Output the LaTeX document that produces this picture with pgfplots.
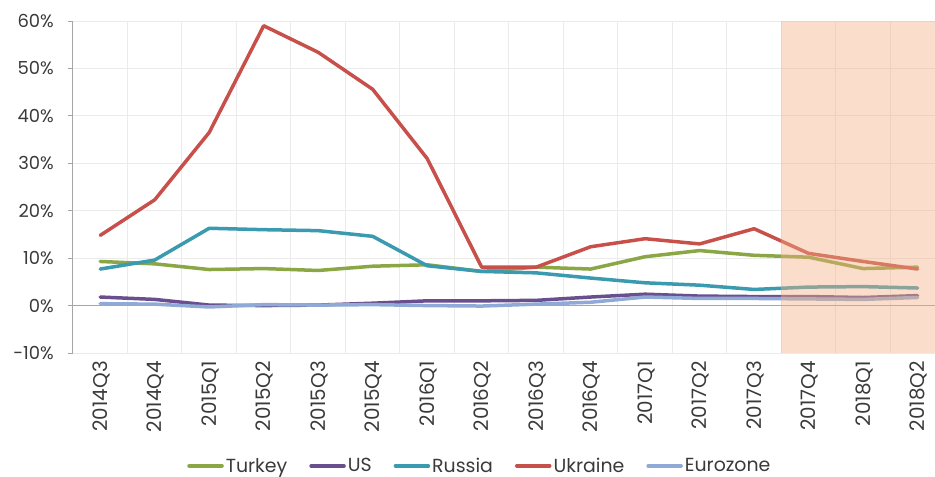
\documentclass[border=0pt]{standalone}
\usepackage{pgfplots}
\usepackage{pgfplotstable}
\pgfplotsset{compat=1.18}
\usepackage{fontspec}
\setmainfont{Poppins}
\definecolor{cTur}{HTML}{8AA645}
\definecolor{cUS}{HTML}{6A4F8F}
\definecolor{cRus}{HTML}{3A9AB0}
\definecolor{cUkr}{HTML}{C8504B}
\definecolor{cEur}{HTML}{8FAAD6}
\definecolor{cShade}{HTML}{F4B183}
\definecolor{txt}{HTML}{3A3A3A}
\definecolor{grd}{HTML}{EBEBEB}
\definecolor{axc}{HTML}{A6A6A6}
\pgfplotstableread{
x  T     US   R     U     E
0  9.3   1.8  7.7   14.8  0.4
1  8.8   1.3  9.6   22.3  0.3
2  7.6   0.1  16.3  36.5  -0.3
3  7.8   0.0  16.0  59.0  0.2
4  7.4   0.1  15.8  53.4  0.1
5  8.3   0.5  14.6  45.6  0.2
6  8.6   1.0  8.4   31.0  0.0
7  7.2   1.0  7.2   8.1   -0.1
8  8.1   1.1  6.9   8.1   0.3
9  7.7   1.8  5.8   12.4  0.7
10 10.3  2.4  4.8   14.1  1.8
11 11.6  2.0  4.3   13.0  1.5
12 10.6  1.9  3.4   16.2  1.5
13 10.2  1.9  3.9   11.0  1.4
14 7.8   1.7  4.0   9.3   1.3
15 8.1   2.1  3.7   7.7   1.7
}\data
\begin{document}
\begin{tikzpicture}
\begin{axis}[
  name=ax,
  at={(0,0)}, anchor=south west,
  scale only axis,
  width=862bp, height=332bp,
  xmin=-0.5, xmax=15.32,
  ymin=-10, ymax=60,
  clip=true,
  axis y line*=left,
  axis x line*=bottom,
  x axis line style={draw=none},
  y axis line style={draw=axc, line width=1bp},
  ytick={-10,0,...,60},
  yticklabels={-10\%,0\%,10\%,20\%,30\%,40\%,50\%,60\%},
  ytick style={draw=axc, line width=1bp},
  tick align=outside,
  major tick length=5bp,
  xtick={0,...,15},
  xticklabels={2014Q3,2014Q4,2015Q1,2015Q2,2015Q3,2015Q4,2016Q1,2016Q2,2016Q3,2016Q4,2017Q1,2017Q2,2017Q3,2017Q4,2018Q1,2018Q2},
  xtick style={draw=none},
  minor xtick={-0.5,0.5,...,15.5},
  minor tick length=0pt,
  xminorgrids=true,
  minor grid style={draw=grd, line width=1bp},
  ymajorgrids=true,
  major grid style={draw=grd, line width=1bp},
  extra y ticks={0},
  extra y tick labels={},
  extra y tick style={grid=major, major grid style={draw=axc, line width=1.2bp}, tick style={draw=none}},
  x tick label style={yshift=-3bp, rotate=90, anchor=east, font=\fontsize{20}{23}\selectfont, text=txt, inner sep=0pt, text height=14bp, text depth=0pt},
  y tick label style={font=\fontsize{18}{21}\selectfont, text=txt, inner sep=0pt, xshift=-14bp},
  legend style={at={(0.472,-0.34)}, anchor=center, draw=none, fill=none,
    legend columns=5, font=\fontsize{19}{22}\selectfont, text=txt,
    /tikz/every even column/.append style={column sep=20bp}},
  legend image code/.code={\draw[#1, line width=3.5bp] (0,0) -- (33bp,0);},
  every axis plot/.append style={line width=3.5bp, line join=round, line cap=round},
]
\addplot[cTur] table[x=x,y=T]{\data};
\addlegendentry{Turkey}
\addplot[cUS] table[x=x,y=US]{\data};
\addlegendentry{US}
\addplot[cRus] table[x=x,y=R]{\data};
\addlegendentry{Russia}
\addplot[cUkr] table[x=x,y=U]{\data};
\addlegendentry{Ukraine}
\addplot[cEur] table[x=x,y=E]{\data};
\addlegendentry{Eurozone}
\addplot[forget plot, draw=none, fill=cShade, fill opacity=0.43, line width=0pt] coordinates {(12.5,-10) (12.5,60) (15.5,60) (15.5,-10)} -- cycle;
\end{axis}
\pgfresetboundingbox
\path (-73bp,-124bp) rectangle (862bp,353bp);
\end{tikzpicture}
\end{document}
